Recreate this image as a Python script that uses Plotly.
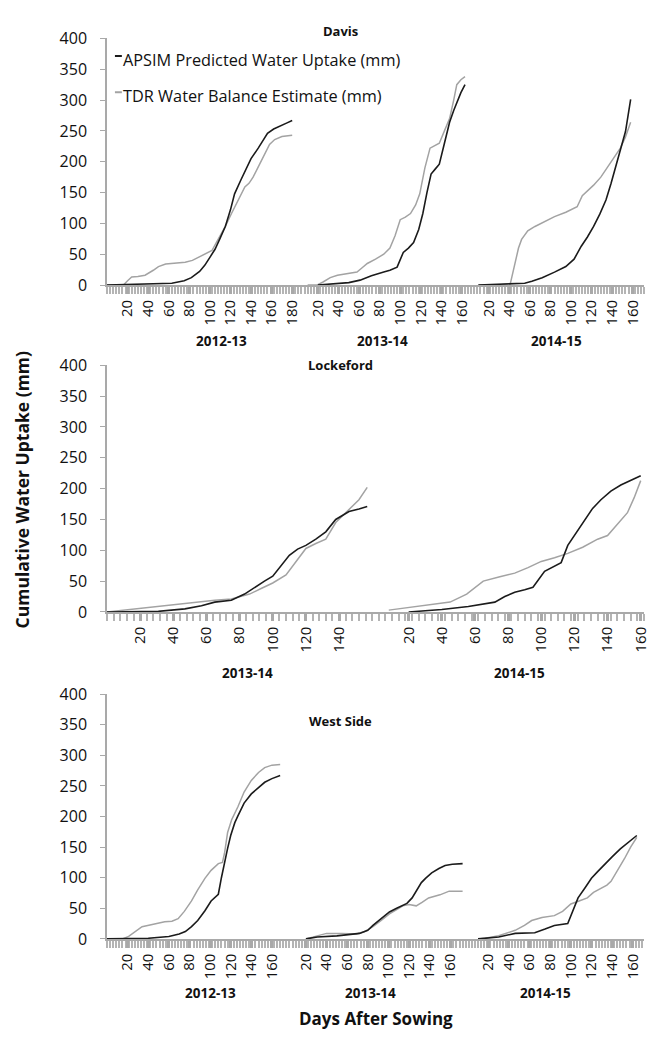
import plotly.graph_objects as go

# ---------------- data ----------------
sites = ["Davis", "Lockeford", "West Side"]
seasons = [["2012-13", "2013-14", "2014-15"],
           ["2013-14", "2014-15"],
           ["2012-13", "2013-14", "2014-15"]]
tick_days = [[list(range(20, 181, 20)), list(range(20, 161, 20)), list(range(20, 161, 20))],
             [list(range(20, 141, 20)), list(range(20, 161, 20))],
             [list(range(20, 161, 20)), list(range(20, 161, 20)), list(range(20, 161, 20))]]

# Davis
dav12_apsim_day = [0, 33, 50, 63, 75, 82, 90, 95, 100, 105, 110, 115, 120, 124, 130, 134, 140, 147, 152, 156, 162, 169, 175, 180]
dav12_apsim_val = [0, 1, 2, 3, 7, 12, 22, 32, 45, 58, 76, 95, 122, 148, 170, 185, 205, 222, 236, 246, 253, 259, 263, 267]
dav12_tdr_day = [0, 16, 20, 24, 30, 37, 45, 50, 57, 65, 76, 83, 89, 95, 102, 108, 115, 121, 128, 134, 138, 142, 148, 153, 158, 163, 170, 180]
dav12_tdr_val = [0, 0, 7, 13, 14, 16, 24, 30, 34, 35, 37, 40, 45, 50, 56, 74, 95, 116, 140, 159, 165, 175, 195, 212, 228, 236, 241, 243]

dav13_apsim_day = [20, 39, 50, 61, 72, 84, 90, 97, 103, 108, 113, 118, 122, 126, 130, 134, 138, 143, 148, 152, 155, 159, 163]
dav13_apsim_val = [0, 2, 4, 8, 15, 21, 24, 29, 53, 60, 69, 90, 116, 150, 180, 188, 196, 230, 264, 283, 296, 312, 325]
dav13_tdr_day = [10, 19, 25, 32, 39, 50, 58, 63, 68, 76, 84, 90, 95, 100, 105, 110, 115, 119, 124, 129, 133, 138, 143, 148, 152, 155, 159, 163]
dav13_tdr_val = [0, 0, 5, 12, 16, 19, 21, 28, 35, 42, 50, 60, 80, 106, 110, 116, 130, 148, 190, 222, 225, 230, 250, 270, 300, 325, 333, 338]

dav14_apsim_day = [10, 40, 55, 62, 72, 84, 95, 103, 110, 116, 122, 128, 134, 139, 144, 148, 153, 158]
dav14_apsim_val = [0, 2, 3, 6, 12, 21, 30, 42, 63, 78, 95, 115, 138, 165, 196, 222, 249, 301]
dav14_tdr_day = [10, 30, 41, 44, 46, 49, 52, 58, 65, 75, 84, 95, 106, 111, 116, 122, 129, 135, 142, 148, 153, 158]
dav14_tdr_val = [0, 0, 2, 25, 42, 60, 74, 88, 95, 103, 111, 118, 127, 145, 153, 162, 175, 190, 206, 222, 240, 264]

# Lockeford
loc13_apsim_day = [0, 31, 47, 57, 65, 75, 83, 90, 95, 100, 105, 110, 115, 120, 126, 132, 138, 146, 152, 157]
loc13_apsim_val = [0, 1, 5, 10, 16, 19, 29, 42, 50, 58, 75, 92, 102, 108, 118, 130, 150, 163, 167, 171]
loc13_tdr_day = [0, 10, 25, 40, 55, 65, 75, 80, 86, 93, 100, 108, 114, 120, 126, 132, 138, 146, 152, 157]
loc13_tdr_val = [0, 3, 8, 12, 16, 19, 21, 25, 29, 38, 47, 60, 82, 103, 111, 118, 145, 166, 182, 202]

loc14_apsim_day = [20, 40, 56, 64, 72, 78, 84, 90, 95, 102, 108, 112, 116, 121, 126, 131, 136, 142, 148, 154, 160]
loc14_apsim_val = [0, 4, 9, 12, 16, 25, 32, 36, 40, 66, 74, 80, 108, 128, 150, 168, 182, 196, 206, 214, 221]
loc14_tdr_day = [8, 25, 45, 55, 65, 75, 84, 92, 100, 108, 116, 125, 134, 140, 146, 152, 156, 160]
loc14_tdr_val = [3, 9, 16, 29, 50, 57, 63, 72, 82, 88, 95, 105, 118, 124, 142, 161, 185, 213]

# West Side
ws12_apsim_day = [0, 40, 60, 70, 76, 82, 88, 95, 101, 108, 111, 114, 117, 120, 124, 127, 133, 140, 147, 153, 160, 168]
ws12_apsim_val = [0, 1, 4, 8, 12, 20, 30, 46, 62, 73, 100, 126, 148, 169, 190, 201, 222, 237, 248, 256, 262, 267]
ws12_tdr_day = [0, 15, 21, 27, 34, 45, 56, 63, 69, 75, 82, 88, 95, 101, 108, 112, 114, 117, 121, 127, 133, 140, 147, 153, 160, 168]
ws12_tdr_val = [0, 0, 4, 12, 20, 24, 28, 29, 33, 45, 62, 80, 99, 112, 123, 125, 140, 174, 195, 216, 240, 259, 272, 280, 284, 285]

ws13_apsim_day = [20, 31, 50, 72, 80, 85, 93, 101, 108, 114, 118, 123, 128, 132, 136, 142, 149, 155, 162, 172]
ws13_apsim_val = [0, 3, 5, 9, 14, 22, 33, 44, 50, 54, 58, 67, 80, 92, 99, 108, 115, 120, 122, 123]
ws13_tdr_day = [20, 31, 40, 55, 69, 77, 85, 93, 101, 108, 114, 120, 127, 133, 139, 150, 159, 172]
ws13_tdr_val = [0, 5, 9, 9, 8, 12, 20, 30, 41, 48, 54, 56, 54, 60, 67, 72, 78, 78]

ws14_apsim_day = [10, 30, 46, 65, 75, 84, 97, 102, 107, 114, 120, 126, 132, 140, 148, 156, 164]
ws14_apsim_val = [0, 3, 9, 10, 16, 22, 25, 45, 67, 84, 99, 110, 121, 134, 147, 158, 169]
ws14_tdr_day = [10, 17, 30, 46, 55, 62, 72, 84, 92, 100, 108, 116, 122, 129, 135, 139, 145, 152, 158, 164]
ws14_tdr_val = [0, 1, 5, 14, 22, 30, 35, 38, 45, 57, 62, 67, 76, 83, 88, 94, 110, 131, 150, 166]

series = [
    [(dav12_apsim_day, dav12_apsim_val, dav12_tdr_day, dav12_tdr_val),
     (dav13_apsim_day, dav13_apsim_val, dav13_tdr_day, dav13_tdr_val),
     (dav14_apsim_day, dav14_apsim_val, dav14_tdr_day, dav14_tdr_val)],
    [(loc13_apsim_day, loc13_apsim_val, loc13_tdr_day, loc13_tdr_val),
     (loc14_apsim_day, loc14_apsim_val, loc14_tdr_day, loc14_tdr_val)],
    [(ws12_apsim_day, ws12_apsim_val, ws12_tdr_day, ws12_tdr_val),
     (ws13_apsim_day, ws13_apsim_val, ws13_tdr_day, ws13_tdr_val),
     (ws14_apsim_day, ws14_apsim_val, ws14_tdr_day, ws14_tdr_val)],
]
legend_names = ["APSIM Predicted Water Uptake (mm)", "TDR Water Balance Estimate (mm)"]

# ---------------- layout config ----------------
W, H = 652, 1037
FONT = "Open Sans"
season_len = [[185, 166, 171], [162, 162], [173, 177, 171]]   # category span per season (days)
minor_step = [3, 4, 3]
label_shift = [[19, 0, 0], [6, 10], [14, -6, -10]]            # px shift of season labels
panel_px = [(28, 280), (362, 614), (698, 948)]                # (pixel of 400, pixel of 0)
x_left_px, x_right_px = 108, 650
title_px_y = [20, 362, 725]
season_label_px_y = [337, 676, 1003]


def px_x(p):
    return p / W


def px_y(p):
    return 1 - p / H


APSIM_COLOR = "#1b1b1b"
TDR_COLOR = "#a3a3a3"
AX_COLOR = "#a9a9a9"
TXT = "#111111"

fig = go.Figure()
annotations = []
shapes = []

for i in range(3):
    xa = "x" if i == 0 else f"x{i+1}"
    ya = "y" if i == 0 else f"y{i+1}"
    offsets = [sum(season_len[i][:k]) for k in range(len(season_len[i]))]
    total = sum(season_len[i])
    for k, (ad, av, td, tv) in enumerate(series[i]):
        off = offsets[k]
        fig.add_trace(go.Scatter(x=[d + off for d in td], y=tv, mode="lines",
                                 line=dict(color=TDR_COLOR, width=1.5),
                                 name=legend_names[1], showlegend=False,
                                 xaxis=xa, yaxis=ya))
        fig.add_trace(go.Scatter(x=[d + off for d in ad], y=av, mode="lines",
                                 line=dict(color=APSIM_COLOR, width=1.6),
                                 name=legend_names[0], showlegend=False,
                                 xaxis=xa, yaxis=ya))
    tickvals, ticktext = [], []
    for k, days in enumerate(tick_days[i]):
        for d in days:
            tickvals.append(d + offsets[k])
            ticktext.append(str(d))
    top, bot = panel_px[i]
    xkey = "xaxis" if i == 0 else f"xaxis{i+1}"
    ykey = "yaxis" if i == 0 else f"yaxis{i+1}"
    fig.update_layout(**{
        xkey: dict(domain=[px_x(x_left_px), px_x(x_right_px)], anchor=ya,
                   range=[0, total], showgrid=False, zeroline=False,
                   showline=True, linecolor=AX_COLOR, linewidth=1.5,
                   tickmode="array", tickvals=tickvals, ticktext=ticktext,
                   tickangle=-90, ticks="outside", ticklen=7, tickwidth=2.5,
                   tickcolor=AX_COLOR, ticklabeloverflow="allow",
                   tickfont=dict(family=FONT, size=15, color=TXT),
                   minor=dict(dtick=minor_step[i], tick0=0, ticks="outside",
                              ticklen=7, tickwidth=2.2, tickcolor="#b4b4b4"),
                   fixedrange=True),
        ykey: dict(domain=[px_y(bot), px_y(top)], anchor=xa, range=[0, 400],
                   dtick=50, showgrid=False, zeroline=False, showline=True,
                   linecolor=AX_COLOR, linewidth=1.5, ticks="outside",
                   ticklen=5, tickcolor=AX_COLOR, ticklabelstandoff=10,
                   tickfont=dict(family=FONT, size=16, color=TXT),
                   fixedrange=True),
    })
    # site title
    annotations.append(dict(text=f"<b>{sites[i]}</b>", xref="paper", yref="paper",
                            x=px_x(344), y=px_y(title_px_y[i]), showarrow=False,
                            xanchor="center", yanchor="middle",
                            font=dict(family=FONT, size=13, color=TXT)))
    # season labels
    for k, s in enumerate(seasons[i]):
        annotations.append(dict(text=f"<b>{s}</b>", xref=xa, yref="paper",
                                x=offsets[k] + season_len[i][k] / 2,
                                xshift=label_shift[i][k],
                                y=px_y(season_label_px_y[i]), showarrow=False,
                                xanchor="center", yanchor="middle",
                                font=dict(family=FONT, size=13.5, color=TXT)))

# axis titles
annotations.append(dict(text="<b>Cumulative Water Uptake (mm)</b>", xref="paper", yref="paper",
                        x=px_x(22), y=px_y(489), textangle=-90, showarrow=False,
                        xanchor="center", yanchor="middle",
                        font=dict(family=FONT, size=17.5, color=TXT)))
annotations.append(dict(text="<b>Days After Sowing</b>", xref="paper", yref="paper",
                        x=px_x(379), y=px_y(1029), showarrow=False,
                        xanchor="center", yanchor="middle",
                        font=dict(family=FONT, size=17, color=TXT)))

# legend (inside Davis panel)
for name, color, ty in [(legend_names[0], APSIM_COLOR, 50), (legend_names[1], TDR_COLOR, 87)]:
    annotations.append(dict(text=name, xref="paper", yref="paper",
                            x=px_x(122), y=px_y(ty), showarrow=False,
                            xanchor="left", yanchor="middle",
                            font=dict(family=FONT, size=16.3, color=TXT)))
    shapes.append(dict(type="line", xref="paper", yref="paper",
                       x0=px_x(116), x1=px_x(123), y0=px_y(ty - 4), y1=px_y(ty - 4),
                       line=dict(color=color, width=2)))

fig.update_layout(width=W, height=H, margin=dict(l=0, r=0, t=0, b=0),
                  paper_bgcolor="white", plot_bgcolor="white",
                  showlegend=False, annotations=annotations, shapes=shapes,
                  font=dict(family=FONT, color=TXT))

fig.write_html("out.html")
